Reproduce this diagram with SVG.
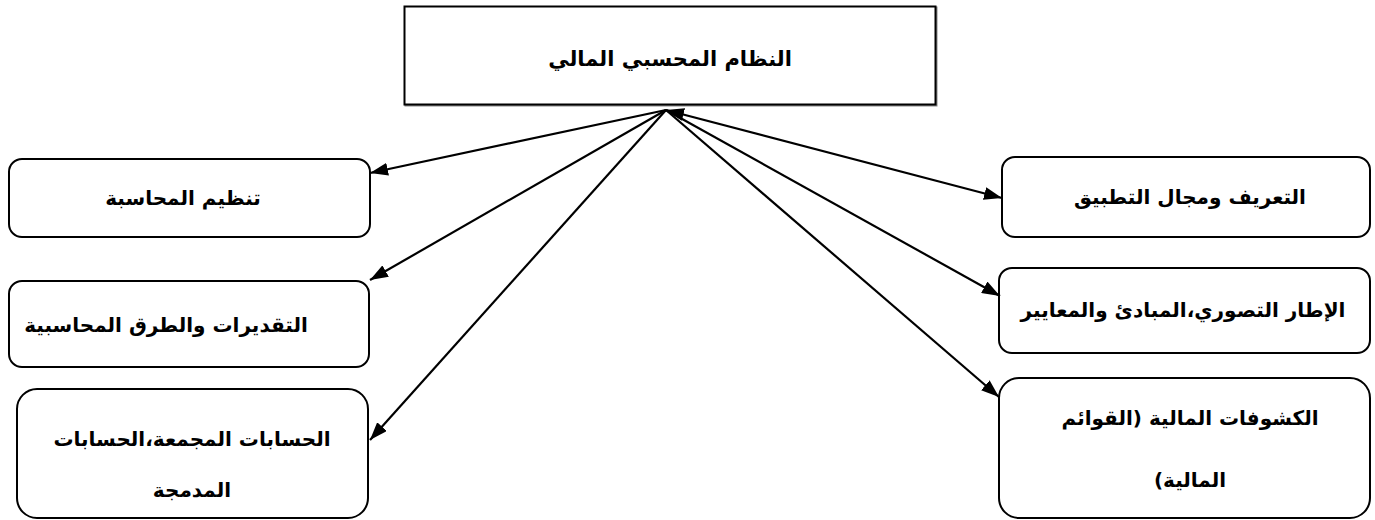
<svg xmlns="http://www.w3.org/2000/svg" width="1375" height="520" viewBox="0 0 1375 520">
<style>
.box{fill:#fff;stroke:#000;stroke-width:2}
.t{font-family:"DejaVu Sans",sans-serif;font-weight:bold;font-size:20px;fill:#000;text-anchor:middle}
.title{font-size:21px}
.c{stroke:#000;stroke-width:2.2;fill:none}
</style>
<defs>
<marker id="ah" markerUnits="userSpaceOnUse" viewBox="0 0 18 13" markerWidth="18" markerHeight="13" refX="18" refY="6.5" orient="auto-start-reverse">
<path d="M0,0 L18,6.5 L0,13 z" fill="#000"/>
</marker>
</defs>
<rect width="1375" height="520" fill="#fff"/>
<g id="main">
<rect x="405.5" y="7.5" width="531" height="98" fill="none" stroke="#888" stroke-width="2"/>
<rect x="404.5" y="6.5" width="531" height="98" fill="#fff" stroke="#000" stroke-width="2"/>
<text class="t title" x="670" y="66" direction="rtl">النظام المحسبي المالي</text>
</g>
<g id="n-l1">
<rect class="box" x="9" y="159" width="361" height="78" rx="13"/>
<text class="t" x="183" y="205" direction="rtl">تنظيم  المحاسبة</text>
</g>
<g id="n-l2">
<rect class="box" x="9" y="281" width="360" height="86" rx="13"/>
<text class="t" x="166" y="332" direction="rtl">التقديرات والطرق المحاسبية</text>
</g>
<g id="n-l3">
<rect class="box" x="17" y="389" width="351" height="129" rx="20"/>
<text class="t" x="192" y="446" direction="rtl">الحسابات المجمعة،الحسابات</text>
<text class="t" x="192" y="497" direction="rtl">المدمجة</text>
</g>
<g id="n-r1">
<rect class="box" x="1002" y="157" width="368" height="80" rx="13"/>
<text class="t" x="1190" y="204" direction="rtl">التعريف ومجال التطبيق</text>
</g>
<g id="n-r2">
<rect class="box" x="999" y="268" width="371" height="85" rx="13"/>
<text class="t" x="1183" y="317" direction="rtl">الإطار التصوري،المبادئ والمعايير</text>
</g>
<g id="n-r3">
<rect class="box" x="999" y="378" width="371" height="140" rx="20"/>
<text class="t" x="1190" y="425" direction="rtl">الكشوفات المالية (القوائم</text>
<text class="t" x="1190" y="487" direction="rtl">المالية)</text>
</g>
<g id="connectors">
<line class="c" x1="666" y1="110" x2="370" y2="173" marker-end="url(#ah)"/>
<line class="c" x1="666" y1="110" x2="370" y2="280" marker-end="url(#ah)"/>
<line class="c" x1="666" y1="110" x2="370" y2="440" marker-end="url(#ah)"/>
<line class="c" x1="666" y1="110" x2="1002" y2="198" marker-start="url(#ah)" marker-end="url(#ah)"/>
<line class="c" x1="666" y1="110" x2="1000" y2="296" marker-end="url(#ah)"/>
<line class="c" x1="666" y1="110" x2="999" y2="397" marker-end="url(#ah)"/>
</g>
</svg>
